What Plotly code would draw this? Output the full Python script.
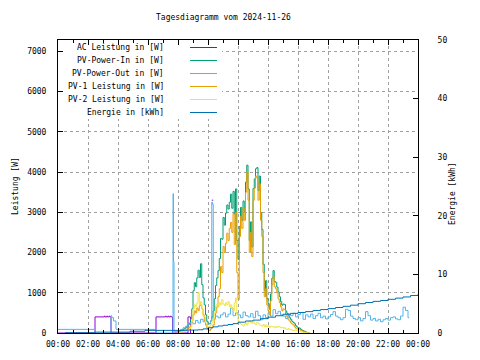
import plotly.graph_objects as go
import pandas as pd

title_text = "Tagesdiagramm vom 2024-11-26"
day = "2024-11-26"

# ---- PV readings, 5-minute samples from 08:00 to 16:45 ----
pv_from, pv_to = "08:00", "16:45"
pv1_w = [
    20, 30, 40, 50, 60, 70, 80, 100, 120, 150, 200, 300,            # 08
    450, 550, 500, 620, 560, 680, 700, 600, 450, 300, 200, 120,      # 09
    80, 60, 100, 150, 200, 350, 500, 650, 900, 1100, 1650, 1500,     # 10
    2150, 2000, 2230, 2480, 2300, 2600, 2750, 2500, 2970, 2200, 3000, 1500,  # 11
    830, 2400, 2900, 2600, 3100, 2800, 3500, 4000, 3300, 2000, 2500, 1900,   # 12
    3300, 3600, 3900, 3850, 3300, 3700, 2800, 2400, 1500, 900, 1100, 700,    # 13
    550, 450, 800, 1200, 1400, 1150, 1100, 1000, 850, 750, 650, 550,  # 14
    600, 580, 450, 400, 330, 300, 250, 220, 200, 150, 120, 100,      # 15
    90, 80, 60, 50, 40, 30, 20, 10, 5, 0,                            # 16
]
pv2_w = [
    10, 15, 20, 25, 30, 40, 50, 60, 80, 100, 150, 300,
    600, 700, 650, 750, 1000, 700, 780, 600, 420, 400, 250, 170,
    150, 170, 200, 250, 350, 500, 680, 720, 650, 750, 700, 830,
    720, 680, 750, 700, 780, 650, 700, 600, 550, 750, 870, 450,
    300, 250, 220, 200, 180, 220, 250, 200, 280, 300, 260, 240,
    290, 230, 210, 260, 240, 200, 190, 170, 210, 160, 200, 150,
    180, 140, 170, 160, 150, 130, 160, 140, 170, 150, 130, 140,
    120, 130, 100, 90, 110, 80, 90, 70, 60, 80, 60, 50,
    40, 40, 30, 20, 15, 10, 5, 0, 0, 0,
]
pv_in_w = [
    30, 45, 60, 75, 90, 110, 130, 160, 200, 250, 350, 600,
    1050, 1250, 1150, 1370, 1560, 1380, 1720, 1200, 870, 700, 450, 290,
    230, 230, 300, 400, 550, 850, 1180, 1370, 1550, 1850, 2350, 2330,
    2870, 2680, 2980, 3180, 3080, 3250, 3450, 3100, 3520, 2950, 3580, 2300,
    1830, 2650, 3120, 2800, 3280, 3020, 3750, 4170, 3580, 2300, 2760, 2140,
    3590, 3830, 4080, 4110, 3540, 3900, 2990, 2570, 1710, 1060, 1300, 850,
    730, 590, 970, 1360, 1550, 1280, 1260, 1140, 1020, 900, 780, 690,
    720, 710, 550, 490, 440, 380, 340, 290, 260, 230, 180, 150,
    130, 120, 90, 70, 55, 40, 25, 10, 5, 0,
]

# ---- AC Leistung (None = no reading) ----
ac_times = ["00:00", "02:28", "03:05", "03:08", "03:15", "03:18", "03:25", "03:28", "03:32",
            "06:32", "07:10", "07:13", "07:20", "07:23", "07:30", "07:33", "07:38",
            "08:40", "08:50", "09:00", "10:15", "10:21"]
ac_w = [0, 400, 420, 400, 420, 400, 420, 400, 0,
        400, 420, 400, 420, 400, 420, 400, 0,
        400, 0, None, 3300, 3300]

# ---- PV-Power-Out ----
out_times = ["00:00", "02:28", "03:32", "03:35", "03:42", "03:52", "06:32", "07:40", "07:42", "07:44",
             "08:00", "08:10", "08:20", "08:30", "08:40", "08:50", "09:00", "09:10", "09:20", "09:30",
             "09:40", "09:50", "10:00", "10:10", "10:15", "10:18", "10:21", "10:30", "10:40", "10:50",
             "11:00", "11:10", "11:20", "11:30", "11:40", "11:50", "12:00", "12:10", "12:20", "12:30",
             "12:40", "12:50", "13:00", "13:10", "13:20", "13:30", "13:40", "13:50", "14:00", "14:10",
             "14:20", "14:30", "14:40", "14:50", "15:00", "15:10", "15:20", "15:30", "15:40", "15:50",
             "16:00", "16:10", "16:20", "16:30", "16:40", "16:50", "17:00", "17:10", "17:20", "17:30",
             "17:40", "17:50", "18:00", "18:10", "18:20", "18:30", "18:40", "18:50", "19:00", "19:10",
             "19:20", "19:30", "19:40", "19:50", "20:00", "20:10", "20:20", "20:30", "20:40", "20:50",
             "21:00", "21:10", "21:20", "21:30", "21:40", "21:50", "22:00", "22:10", "22:20", "22:30",
             "22:40", "22:50", "23:00", "23:10", "23:20", "23:25"]
out_w = [90, 0, 430, 380, 300, 90, 0, 3460, 1770, 40,
         60, 90, 130, 170, 220, 260, 230, 310, 250, 340,
         280, 200, 230, 300, 3250, 3200, 350, 420, 380, 450,
         500, 400, 470, 620, 430, 500, 450, 380, 520, 430,
         400, 480, 380, 540, 430, 330, 450, 380, 500, 420,
         580, 480, 540, 450, 420, 360, 470, 430, 490, 400,
         460, 510, 340, 450, 400, 470, 360, 430, 490, 380,
         420, 350, 400, 460, 530, 420, 380, 330, 380, 590,
         560, 420, 360, 330, 380, 300, 360, 530, 430, 320,
         360, 300, 340, 280, 330, 360, 320, 380, 400, 350,
         330, 420, 640, 560, 380, 380]

# ---- Energie ----
energy_times = ["00:28", "02:28", "04:48", "05:48", "08:36", "09:20", "09:40", "10:00", "10:20", "10:40",
                "11:00", "11:20", "11:40", "12:00", "12:30", "13:00", "13:30", "14:00", "14:30", "15:00",
                "15:30", "16:00", "16:30", "17:00", "17:30", "18:00", "18:30", "19:00", "19:30", "20:00",
                "20:30", "21:00", "21:30", "22:00", "22:30", "23:00", "23:30", "24:00"]
energy_kwh = [0.05, 0.15, 0.30, 0.45, 0.50, 0.55, 0.70, 0.90, 1.05, 1.20,
              1.32, 1.45, 1.60, 1.85, 2.05, 2.20, 2.45, 2.70, 2.95, 3.20,
              3.35, 3.50, 3.65, 3.85, 4.00, 4.16, 4.35, 4.55, 4.75, 5.00,
              5.20, 5.40, 5.55, 5.75, 5.95, 6.15, 6.40, 6.63]

legend_names = ["AC Leistung in [W]", "PV-Power-In in [W]", "PV-Power-Out in [W]",
                "PV-1 Leistung in [W]", "PV-2 Leistung in [W]", "Energie in [kWh]"]
colors = ["#9400d3", "#009e73", "#56b4e9", "#e69f00", "#f0e442", "#0072b2"]


def ts(hm):
    if hm == "24:00":
        return "2024-11-27 00:00"
    return f"{day} {hm}"


pv_times = pd.date_range(ts(pv_from), ts(pv_to), freq="5min")

fig = go.Figure()
series = [
    ([ts(t) for t in ac_times], ac_w, "y"),
    (pv_times, pv_in_w, "y"),
    ([ts(t) for t in out_times], out_w, "y"),
    (pv_times, pv1_w, "y"),
    (pv_times, pv2_w, "y"),
    ([ts(t) for t in energy_times], energy_kwh, "y2"),
]
for (xs, ys, ax), name, col in zip(series, legend_names, colors):
    fig.add_trace(go.Scatter(x=xs, y=ys, name=name, mode="lines", yaxis=ax,
                             line=dict(color=col, width=1, shape="hv"),
                             connectgaps=False, hoverinfo="skip"))

# target plot box in window pixels; the page body adds an 8 px offset
OFF = 8
L, R, T, B = 58, 418, 40, 333
W, H = 480 - OFF, 360 - OFF
Y_MAX = 7280


def px(xp):
    return (xp - L) / (R - L)


def py(yp):
    return (B - yp) / (B - T)


font = dict(family="DejaVu Sans Mono", size=8, color="black")
grid = dict(showgrid=True, gridcolor="#a0a0a0", griddash="3px,3px", gridwidth=1)
fig.update_layout(
    width=W, height=H,
    margin=dict(l=L - OFF, r=W - (R - OFF), t=T - OFF, b=H - (B - OFF), pad=0),
    paper_bgcolor="white", plot_bgcolor="white",
    showlegend=False, font=font,
    xaxis=dict(type="date", range=[ts("00:00"), ts("24:00")], tick0=ts("00:00"),
               dtick=2 * 3600 * 1000, tickformat="%H:%M",
               ticks="inside", ticklen=5, tickcolor="black",
               showline=True, linecolor="black", linewidth=1, mirror="ticks",
               zeroline=False, ticklabelstandoff=3, automargin=False,
               minor=dict(dtick=3600 * 1000, ticks="inside", ticklen=3,
                          tickcolor="black", showgrid=False), **grid),
    yaxis=dict(range=[0, Y_MAX], tick0=0, dtick=1000,
               ticks="inside", ticklen=5, tickcolor="black",
               showline=True, linecolor="black", linewidth=1,
               zeroline=False, ticklabelstandoff=9, automargin=False, **grid),
    yaxis2=dict(range=[0, 50], tick0=0, dtick=10, overlaying="y", side="right",
                ticks="inside", ticklen=5, tickcolor="black",
                showline=True, linecolor="black", linewidth=1,
                showgrid=False, zeroline=False, ticklabelstandoff=17, automargin=False),
)

annotations = [
    dict(text=title_text, x=px(223.5), y=py(17.5), xanchor="center", yanchor="middle"),
    dict(text="Leistung [W]", x=px(15), y=py(186), textangle=-90, xanchor="center", yanchor="middle"),
    dict(text="Energie [kWh]", x=px(452), y=py(194), textangle=-90, xanchor="center", yanchor="middle"),
]
# opaque key box on the x/y subplot: covers the grid, stays below the data
box_right = pd.Timestamp(ts("00:00")) + pd.Timedelta(hours=(222 - L) / (R - L) * 24)
box_bottom = (B - 119) / (B - T) * Y_MAX
shapes = [dict(type="rect", xref="x", yref="y", layer="between",
               x0=ts("00:00"), x1=box_right, y0=box_bottom, y1=Y_MAX,
               fillcolor="white", line=dict(width=0))]
for i, (name, col) in enumerate(zip(legend_names, colors)):
    yy = 47.5 + 13 * i
    annotations.append(dict(text=name, x=px(166), y=py(yy), xanchor="right", yanchor="middle"))
    shapes.append(dict(type="line", xref="paper", yref="paper",
                       x0=px(190), x1=px(217), y0=py(yy), y1=py(yy),
                       line=dict(color=col, width=1)))
for a in annotations:
    a.update(xref="paper", yref="paper", showarrow=False, font=font)
fig.update_layout(annotations=annotations, shapes=shapes)

fig.write_html("out.html")
